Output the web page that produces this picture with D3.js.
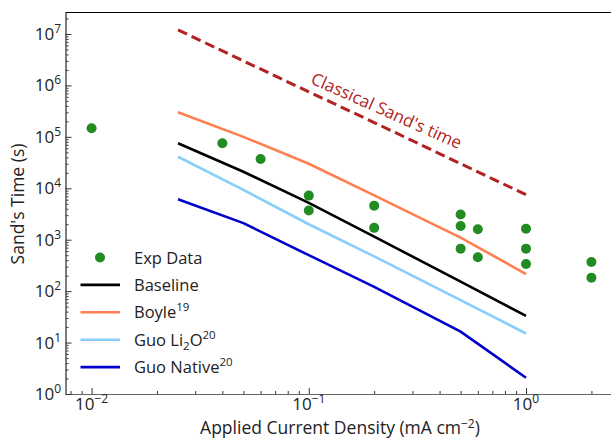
<!DOCTYPE html>
<html>
<head>
<meta charset="utf-8">
<script src="https://cdn.jsdelivr.net/npm/d3@7"></script>
<style>
  body { margin: 0; background: #fff; }
  text { font-family: "Open Sans", "Noto Sans", sans-serif; }
</style>
</head>
<body>
<div class="visual"></div>
<script>
const width = 611;
const height = 440;

// experimental points
const expJ = [0.01, 0.04, 0.06, 0.1, 0.1, 0.2, 0.2, 0.5, 0.5, 0.5, 0.6, 0.6, 1, 1, 1, 2, 2];
const expT = [1.47e5, 7.5e4, 3.7e4, 7.2e3, 3.7e3, 4.6e3, 1.7e3, 3.1e3, 1.85e3, 670, 1.6e3, 455, 1.64e3, 670, 337, 369, 182];

// model curves
const modelJ = [0.025, 0.05, 0.1, 0.2, 0.5, 1.0];
const classical = [1.2e7, 3.0e6, 7.5e5, 1.9e5, 3.0e4, 7.5e3];
const boyle = [3.0e5, 1.0e5, 3.0e4, 7.3e3, 1.1e3, 215];
const baseline = [7.5e4, 2.1e4, 5.2e3, 1.15e3, 153, 33];
const guoLi2O = [4.1e4, 9.3e3, 2.0e3, 474, 67, 15];
const guoNative = [6.1e3, 2.1e3, 500, 121, 16.3, 2.07];

const xTicks = [0.01, 0.1, 1];
const xTickExp = ["\u22122", "\u22121", "0"];
const yTicks = [1, 10, 100, 1e3, 1e4, 1e5, 1e6, 1e7];
const yTickExp = ["0", "1", "2", "3", "4", "5", "6", "7"];

const plotLeft = 65.5, plotRight = 614, plotTop = 12.5, plotBottom = 394;

const svg = d3
  .select(".visual")
  .append("svg")
  .attr("width", width)
  .attr("height", height);

const x = d3.scaleLog().domain([Math.pow(10, -2.12), Math.pow(10, 0.405)]).range([plotLeft, plotRight]);
const y = d3.scaleLog().domain([1, Math.pow(10, 7.418)]).range([plotBottom, plotTop]);

// minor ticks
const xMinor = [];
[0.001, 0.01, 0.1, 1].forEach((d) => {
  for (let k = 2; k <= 9; k++) {
    const v = d * k;
    if (v > x.domain()[0] && v < x.domain()[1]) xMinor.push(v);
  }
});
const yMinor = [];
[1, 10, 100, 1e3, 1e4, 1e5, 1e6, 1e7].forEach((d) => {
  for (let k = 2; k <= 9; k++) {
    const v = d * k;
    if (v < y.domain()[1]) yMinor.push(v);
  }
});

const gx = svg.append("g").attr("transform", `translate(0,${plotBottom})`);
gx.call(d3.axisBottom(x).tickValues(xMinor).tickSizeInner(-3).tickSizeOuter(0).tickFormat(""));
gx.append("g").call(d3.axisBottom(x).tickValues(xTicks).tickSizeInner(-6).tickSizeOuter(0).tickFormat(""));
gx.selectAll(".domain").attr("stroke", "#666").attr("stroke-width", 1.2);
gx.selectAll(".tick line").attr("stroke", "#333");

const gy = svg.append("g").attr("transform", `translate(${plotLeft},0)`);
gy.call(d3.axisLeft(y).tickValues(yMinor).tickSizeInner(-3).tickSizeOuter(0).tickFormat(""));
gy.append("g").call(d3.axisLeft(y).tickValues(yTicks).tickSizeInner(-6).tickSizeOuter(0).tickFormat(""));
gy.selectAll(".domain").attr("stroke", "#666").attr("stroke-width", 1.2);
gy.selectAll(".tick line").attr("stroke", "#333");

// top spine
svg.append("line")
  .attr("x1", plotLeft).attr("x2", width)
  .attr("y1", plotTop).attr("y2", plotTop)
  .attr("stroke", "black").attr("stroke-width", 1.2);

// tick labels with superscripts
xTicks.forEach((d, i) => {
  const t = svg.append("text")
    .attr("x", x(d))
    .attr("y", 410)
    .attr("text-anchor", "middle")
    .attr("font-size", 17)
    .attr("fill", "#222");
  t.append("tspan").text("10");
  t.append("tspan").attr("dy", -7).attr("font-size", 12).text(xTickExp[i]);
});
yTicks.forEach((d, i) => {
  const t = svg.append("text")
    .attr("x", 61)
    .attr("y", y(d) + 6)
    .attr("text-anchor", "end")
    .attr("font-size", 17)
    .attr("fill", "#222");
  t.append("tspan").text("10");
  t.append("tspan").attr("dy", -7).attr("font-size", 12).text(yTickExp[i]);
});

// axis titles
const xl = svg.append("text")
  .attr("x", 340).attr("y", 434)
  .attr("text-anchor", "middle")
  .attr("font-size", 17.5)
  .attr("fill", "#222");
xl.append("tspan").text("Applied Current Density (mA cm");
xl.append("tspan").attr("dy", -6).attr("font-size", 12).text("\u22122");
xl.append("tspan").attr("dy", 6).text(")");

svg.append("text")
  .attr("transform", "translate(24,204) rotate(-90)")
  .attr("text-anchor", "middle")
  .attr("font-size", 17.5)
  .attr("fill", "#222")
  .text("Sand's Time (s)");

// curves
const line = d3.line()
  .x((d) => x(d[0]))
  .y((d) => y(d[1]));

const curves = [
  { vals: classical, color: "#b22222", dash: "10,5", w: 3 },
  { vals: boyle, color: "#ff7f50", dash: null, w: 2.6 },
  { vals: guoLi2O, color: "#87cefa", dash: null, w: 2.6 },
  { vals: baseline, color: "black", dash: null, w: 2.6 },
  { vals: guoNative, color: "#0000cd", dash: null, w: 2.6 },
];

svg.selectAll("path.curve")
  .data(curves)
  .enter()
  .append("path")
  .attr("class", "curve")
  .attr("d", (c) => line(modelJ.map((j, i) => [j, c.vals[i]])))
  .attr("fill", "none")
  .attr("stroke", (c) => c.color)
  .attr("stroke-width", (c) => c.w)
  .attr("stroke-dasharray", (c) => c.dash);

// experimental data
svg.selectAll("circle.exp")
  .data(expJ.map((j, i) => [j, expT[i]]))
  .enter()
  .append("circle")
  .attr("class", "exp")
  .attr("cx", (d) => x(d[0]))
  .attr("cy", (d) => y(d[1]))
  .attr("r", 5)
  .attr("fill", "#228b22");

// annotation
svg.append("text")
  .attr("transform", "translate(386,112) rotate(24)")
  .attr("text-anchor", "middle")
  .attr("dominant-baseline", "middle")
  .attr("font-size", 17)
  .attr("fill", "#b22222")
  .text("Classical Sand's time");

// legend
const legendItems = [
  { type: "dot", color: "#228b22", parts: [["Exp Data", 0]] },
  { type: "line", color: "black", parts: [["Baseline", 0]] },
  { type: "line", color: "#ff7f50", parts: [["Boyle", 0], ["19", 1]] },
  { type: "line", color: "#87cefa", parts: [["Guo Li", 0], ["2", -1], ["O", 0], ["20", 1]] },
  { type: "line", color: "#0000cd", parts: [["Guo Native", 0], ["20", 1]] },
];

const legend = svg.append("g");
legendItems.forEach((it, i) => {
  const ly = 257.5 + i * 27.4;
  if (it.type === "dot") {
    legend.append("circle").attr("cx", 100).attr("cy", ly).attr("r", 5).attr("fill", it.color);
  } else {
    legend.append("line")
      .attr("x1", 80.5).attr("x2", 120)
      .attr("y1", ly).attr("y2", ly)
      .attr("stroke", it.color).attr("stroke-width", 2.6);
  }
  const t = legend.append("text")
    .attr("x", 134)
    .attr("y", ly + 6)
    .attr("font-size", 16.5)
    .attr("fill", "#222");
  let prev = 0;
  it.parts.forEach((p) => {
    const shift = p[1] === 1 ? -7 : p[1] === -1 ? 4 : 0;
    t.append("tspan")
      .attr("dy", shift - prev)
      .attr("font-size", p[1] === 0 ? 16.5 : 11.5)
      .text(p[0]);
    prev = shift;
  });
});
</script>
</body>
</html>
